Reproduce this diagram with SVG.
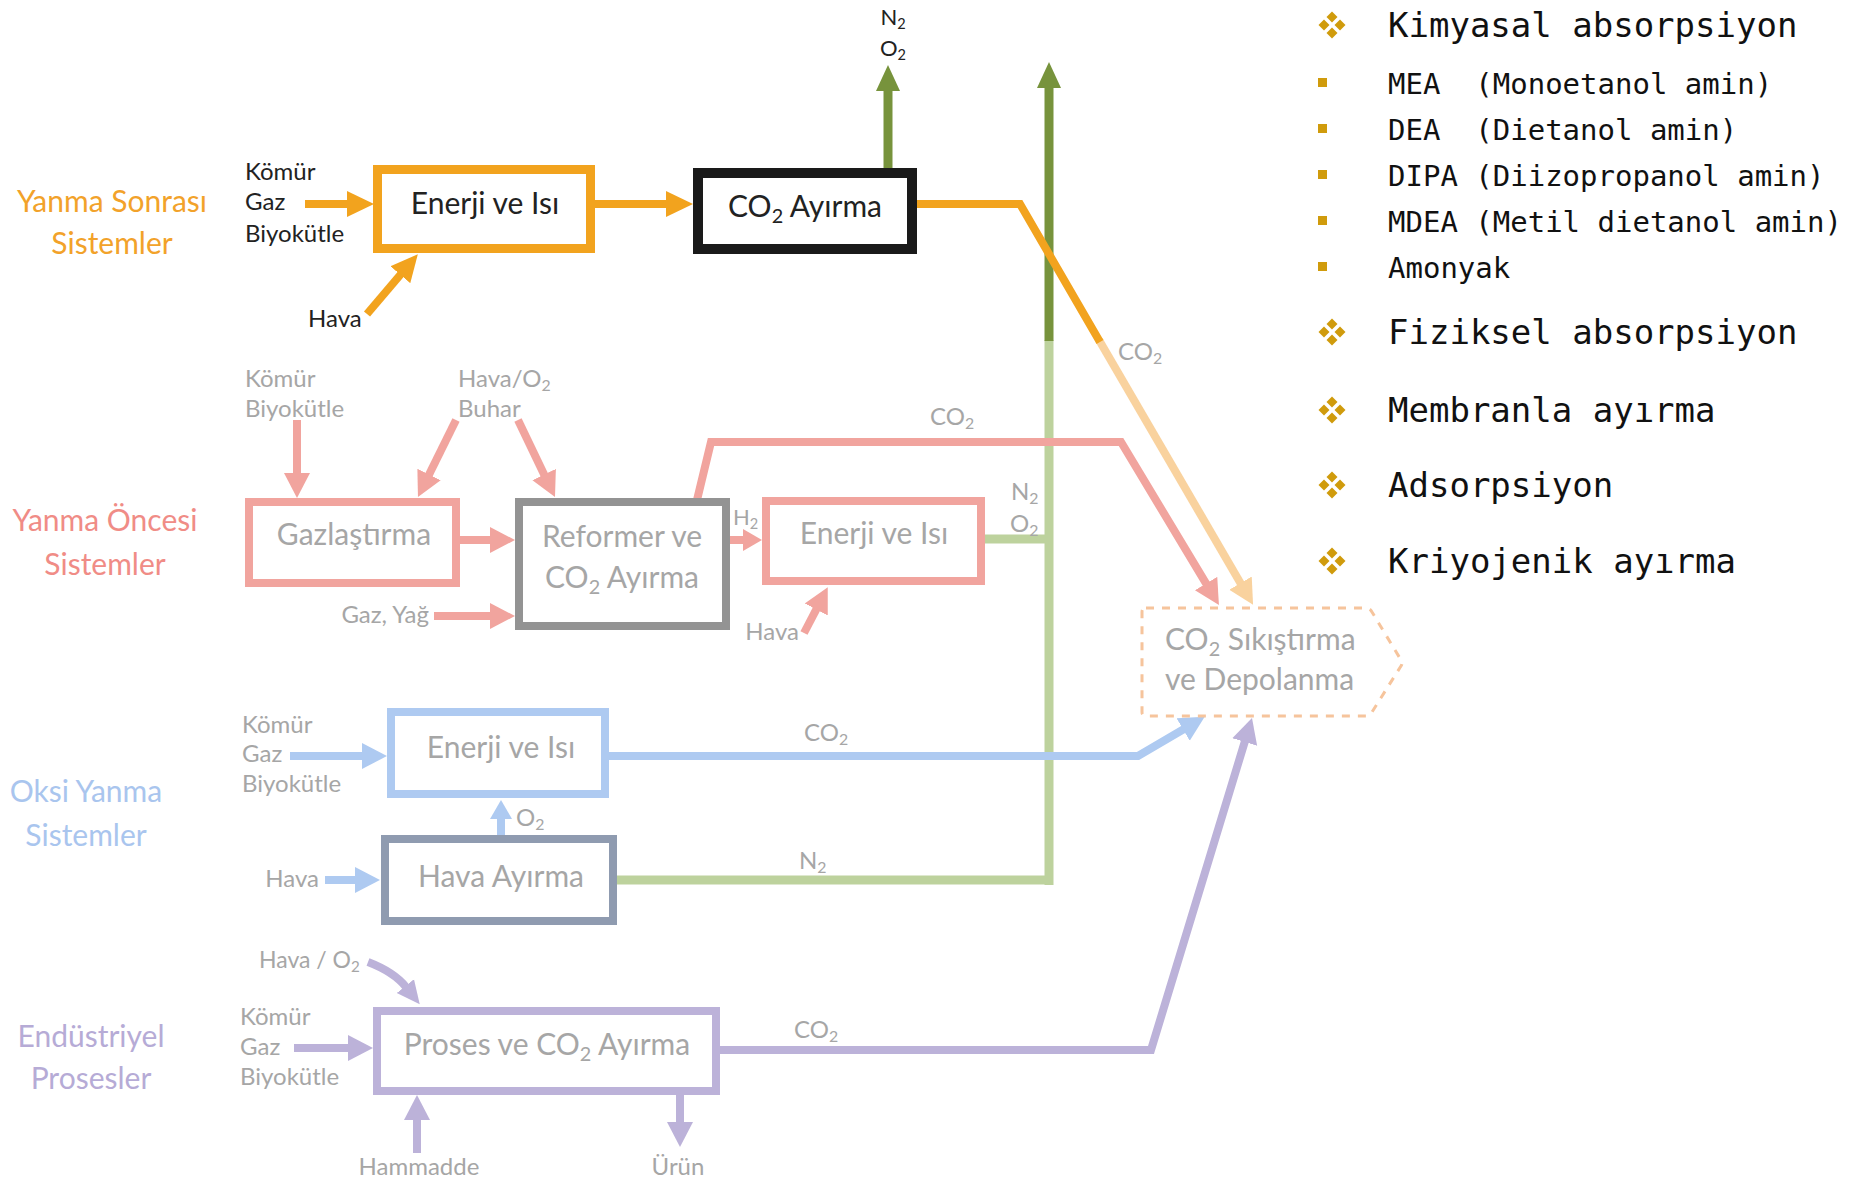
<svg xmlns="http://www.w3.org/2000/svg" width="1856" height="1181" viewBox="0 0 1856 1181">
<style>
text { font-family: Lato, "Liberation Sans", sans-serif; }
.t30 { font-size: 30px; }
.t24 { font-size: 24px; }
.t23 { font-size: 23px; }
.t22 { font-size: 22px; }
.mid { text-anchor: middle; }
.end { text-anchor: end; }
.dark { fill: #222222; }
.grey { fill: #A6A6A6; }
.sub { font-size: 0.66em; }
.mono { font-family: "DejaVu Sans Mono", "Liberation Mono", monospace; fill: #111111; }
.big { font-size: 34px; }
.small { font-size: 29px; }
.gold { fill: #D09B0C; }
.box { fill: #ffffff; }
.line { fill: none; stroke-linejoin: miter; stroke-linecap: butt; }
.or { stroke: #F2A31E; stroke-width: 8; }
.gr { stroke: #77933C; stroke-width: 9; }
.grL { stroke: #BDD29D; stroke-width: 9; }
.orL { stroke: #F9D29E; stroke-width: 8; }
.rd { stroke: #F1A49E; stroke-width: 8; }
.bl { stroke: #AECAF1; stroke-width: 8; }
.pu { stroke: #BCB2D9; stroke-width: 8; }
</style>
<defs>
  <marker id="hOr" markerUnits="userSpaceOnUse" viewBox="0 -14 28 28" markerWidth="28" markerHeight="28" refX="1" refY="0" orient="auto"><path d="M0,-13 L27,0 L0,13Z" fill="#F2A31E"/></marker>
  <marker id="hGr" markerUnits="userSpaceOnUse" viewBox="0 -14 28 28" markerWidth="28" markerHeight="28" refX="1" refY="0" orient="auto"><path d="M0,-12 L26,0 L0,12Z" fill="#77933C"/></marker>
  <marker id="hOrL" markerUnits="userSpaceOnUse" viewBox="0 -14 28 28" markerWidth="28" markerHeight="28" refX="1" refY="0" orient="auto"><path d="M0,-13 L25,0 L0,13Z" fill="#F9D29E"/></marker>
  <marker id="hRd" markerUnits="userSpaceOnUse" viewBox="0 -14 28 28" markerWidth="28" markerHeight="28" refX="1" refY="0" orient="auto"><path d="M0,-13 L25,0 L0,13Z" fill="#F1A49E"/></marker>
  <marker id="hRdS" markerUnits="userSpaceOnUse" viewBox="0 -14 28 28" markerWidth="28" markerHeight="28" refX="1" refY="0" orient="auto"><path d="M0,-11 L19,0 L0,11Z" fill="#F1A49E"/></marker>
  <marker id="hBl" markerUnits="userSpaceOnUse" viewBox="0 -14 28 28" markerWidth="28" markerHeight="28" refX="1" refY="0" orient="auto"><path d="M0,-13 L25,0 L0,13Z" fill="#AECAF1"/></marker>
  <marker id="hBlS" markerUnits="userSpaceOnUse" viewBox="0 -14 28 28" markerWidth="28" markerHeight="28" refX="1" refY="0" orient="auto"><path d="M0,-11 L19,0 L0,11Z" fill="#AECAF1"/></marker>
  <marker id="hPu" markerUnits="userSpaceOnUse" viewBox="0 -14 28 28" markerWidth="28" markerHeight="28" refX="1" refY="0" orient="auto"><path d="M0,-13 L25,0 L0,13Z" fill="#BCB2D9"/></marker>
  <marker id="hPuS" markerUnits="userSpaceOnUse" viewBox="0 -14 28 28" markerWidth="28" markerHeight="28" refX="1" refY="0" orient="auto"><path d="M0,-11 L23,0 L0,11Z" fill="#BCB2D9"/></marker>
  <g id="quad" class="gold">
    <path d="M0,-13.5 L5.5,-8 L0,-2.5 L-5.5,-8Z"/>
    <path d="M8,-5.5 L13.5,0 L8,5.5 L2.5,0Z"/>
    <path d="M0,2.5 L5.5,8 L0,13.5 L-5.5,8Z"/>
    <path d="M-8,-5.5 L-2.5,0 L-8,5.5 L-13.5,0Z"/>
  </g>
</defs>
<rect width="1856" height="1181" fill="#ffffff"/>

<!-- connectors -->
<g id="connectors">
  <path class="line grL" d="M1049,885 V340"/>
  <path class="line gr" d="M1049,341 V87" marker-end="url(#hGr)"/>
  <path class="line grL" d="M985,539 H1049"/>
  <path class="line grL" d="M617,880 H1053"/>
  <path class="line or" d="M305,204 H348" marker-end="url(#hOr)"/>
  <path class="line or" d="M367,314 L401,274" marker-end="url(#hOr)"/>
  <path class="line or" d="M595,204 H667" marker-end="url(#hOr)"/>
  <path class="line gr" d="M888,168 V90" marker-end="url(#hGr)"/>
  <path class="line orL" d="M1099,340 L1241,584" marker-end="url(#hOrL)"/>
  <path class="line or" d="M917,204 H1020 L1100,342"/>
  <path class="line rd" d="M297,420 V474" marker-end="url(#hRd)"/>
  <path class="line rd" d="M456,420 L428.6,475.5" marker-end="url(#hRd)"/>
  <path class="line rd" d="M518,420 L544.6,475.4" marker-end="url(#hRd)"/>
  <path class="line rd" d="M460,540 H491" marker-end="url(#hRd)"/>
  <path class="line rd" d="M434,616 H491" marker-end="url(#hRd)"/>
  <path class="line rd" d="M730,540 H744" marker-end="url(#hRdS)"/>
  <path class="line rd" d="M804,633 L816.7,608.6" marker-end="url(#hRd)"/>
  <path class="line rd" d="M697,500 L711,442 H1121 L1206.6,584.4" marker-end="url(#hRd)"/>
  <path class="line bl" d="M290,756 H363" marker-end="url(#hBl)"/>
  <path class="line bl" d="M609,756 H1138 L1184,729" marker-end="url(#hBl)"/>
  <path class="line bl" d="M501,837 V818" marker-end="url(#hBlS)"/>
  <path class="line bl" d="M325,880 H356" marker-end="url(#hBl)"/>
  <path class="line pu" d="M368,962 Q394,972 406,987" marker-end="url(#hPuS)"/>
  <path class="line pu" d="M294,1048 H349" marker-end="url(#hPu)"/>
  <path class="line pu" d="M720,1050 H1151 L1245,741" marker-end="url(#hPu)"/>
  <path class="line pu" d="M417,1153 V1119" marker-end="url(#hPu)"/>
  <path class="line pu" d="M680,1095 V1123" marker-end="url(#hPu)"/>
</g>

<g id="flow-labels">
  <text class="t22 dark mid" x="893" y="25">N<tspan class="sub" dy="4">2</tspan></text>
  <text class="t22 dark mid" x="893" y="56">O<tspan class="sub" dy="4">2</tspan></text>
  <text class="t24 dark" x="245" y="180">Kömür</text>
  <text class="t24 dark" x="245" y="210">Gaz</text>
  <text class="t24 dark" x="245" y="242">Biyokütle</text>
  <text class="t24 dark" x="308" y="327">Hava</text>
  <text class="t24 grey" x="1118" y="360">CO<tspan class="sub" dy="4">2</tspan></text>

  <text class="t24 grey" x="245" y="387">Kömür</text>
  <text class="t24 grey" x="245" y="417">Biyokütle</text>
  <text class="t24 grey" x="458" y="387">Hava/O<tspan class="sub" dy="4">2</tspan></text>
  <text class="t24 grey" x="458" y="417">Buhar</text>
  <text class="t24 grey end" x="429" y="623">Gaz, Yağ</text>
  <text class="t22 grey" x="733" y="525">H<tspan class="sub" dy="4">2</tspan></text>
  <text class="t24 grey end" x="799" y="640">Hava</text>
  <text class="t24 grey" x="930" y="425">CO<tspan class="sub" dy="4">2</tspan></text>
  <text class="t24 grey" x="1011" y="500">N<tspan class="sub" dy="4">2</tspan></text>
  <text class="t24 grey" x="1010" y="532">O<tspan class="sub" dy="4">2</tspan></text>

  <text class="t24 grey" x="242" y="733">Kömür</text>
  <text class="t24 grey" x="242" y="762">Gaz</text>
  <text class="t24 grey" x="242" y="792">Biyokütle</text>
  <text class="t24 grey" x="804" y="741">CO<tspan class="sub" dy="4">2</tspan></text>
  <text class="t24 grey" x="516" y="826">O<tspan class="sub" dy="4">2</tspan></text>
  <text class="t24 grey end" x="319" y="887">Hava</text>
  <text class="t24 grey" x="799" y="869">N<tspan class="sub" dy="4">2</tspan></text>

  <text class="t23 grey" x="259" y="968">Hava / O<tspan class="sub" dy="4">2</tspan></text>
  <text class="t24 grey" x="240" y="1025">Kömür</text>
  <text class="t24 grey" x="240" y="1055">Gaz</text>
  <text class="t24 grey" x="240" y="1085">Biyokütle</text>
  <text class="t24 grey" x="794" y="1038">CO<tspan class="sub" dy="4">2</tspan></text>
  <text class="t24 grey mid" x="419" y="1175">Hammadde</text>
  <text class="t24 grey mid" x="678" y="1175">Ürün</text>
</g>

<g id="titles">
  <text class="t30 mid" fill="#F2A22A" x="112" y="212">Yanma Sonrası</text>
  <text class="t30 mid" fill="#F2A22A" x="112" y="254">Sistemler</text>
  <text class="t30 mid" fill="#F08C86" x="105" y="531">Yanma Öncesi</text>
  <text class="t30 mid" fill="#F08C86" x="105" y="575">Sistemler</text>
  <text class="t30 mid" fill="#A9C5EE" x="86" y="802">Oksi Yanma</text>
  <text class="t30 mid" fill="#A9C5EE" x="86" y="846">Sistemler</text>
  <text class="t30 mid" fill="#B6ABD6" x="91" y="1047">Endüstriyel</text>
  <text class="t30 mid" fill="#B6ABD6" x="91" y="1089">Prosesler</text>
</g>

<g id="post-enerji">
  <rect class="box" x="377.5" y="169.5" width="213" height="79" stroke="#F2A31E" stroke-width="9"/>
  <text class="t30 dark mid" x="485" y="214">Enerji ve Isı</text>
</g>
<g id="post-co2-ayirma">
  <rect class="box" x="698" y="173" width="214" height="76" stroke="#1A1A1A" stroke-width="10"/>
  <text class="t30 dark mid" x="805" y="217">CO<tspan class="sub" dy="6">2</tspan><tspan dy="-6"> Ayırma</tspan></text>
</g>
<g id="pre-gazlastirma">
  <rect class="box" x="249" y="502" width="207" height="81" stroke="#F1A49E" stroke-width="8"/>
  <text class="t30 grey mid" x="354" y="545">Gazlaştırma</text>
</g>
<g id="pre-reformer">
  <rect class="box" x="519" y="502" width="207" height="124" stroke="#939393" stroke-width="8"/>
  <text class="t30 grey mid" x="622" y="547">Reformer ve</text>
  <text class="t30 grey mid" x="622" y="588">CO<tspan class="sub" dy="6">2</tspan><tspan dy="-6"> Ayırma</tspan></text>
</g>
<g id="pre-enerji">
  <rect class="box" x="766" y="501" width="215" height="80" stroke="#F1A49E" stroke-width="8"/>
  <text class="t30 grey mid" x="874" y="544">Enerji ve Isı</text>
</g>
<g id="oxy-enerji">
  <rect class="box" x="391" y="712" width="214" height="82" stroke="#AECAF1" stroke-width="8"/>
  <text class="t30 grey mid" x="501" y="758">Enerji ve Isı</text>
</g>
<g id="oxy-hava-ayirma">
  <rect class="box" x="385" y="839" width="228" height="82" stroke="#8F9BB0" stroke-width="8"/>
  <text class="t30 grey mid" x="501" y="887">Hava Ayırma</text>
</g>
<g id="ind-proses">
  <rect class="box" x="377" y="1011" width="339" height="80" stroke="#BCB2D9" stroke-width="8"/>
  <text class="t30 grey mid" x="547" y="1055">Proses ve CO<tspan class="sub" dy="6">2</tspan><tspan dy="-6"> Ayırma</tspan></text>
</g>
<g id="co2-depolama">
  <path d="M1146,608 H1366 Q1370,608 1372,612 L1401,660 Q1403,663 1401,666 L1372,712 Q1370,716 1366,716 H1146 Q1142,716 1142,712 V612 Q1142,608 1146,608Z" fill="none" stroke="#F6C49C" stroke-width="3" stroke-dasharray="8 8"/>
  <text class="t30 grey" x="1165" y="650">CO<tspan class="sub" dy="6">2</tspan><tspan dy="-6"> Sıkıştırma</tspan></text>
  <text class="t30 grey" x="1165" y="690">ve Depolanma</text>
</g>

<g id="legend">
  <use href="#quad" x="1332" y="25"/>
  <text class="mono big" x="1388" y="37">Kimyasal absorpsiyon</text>
  <rect class="gold" x="1318" y="78" width="9" height="9"/>
  <text class="mono small" x="1388" y="94" xml:space="preserve">MEA  (Monoetanol amin)</text>
  <rect class="gold" x="1318" y="124" width="9" height="9"/>
  <text class="mono small" x="1388" y="140" xml:space="preserve">DEA  (Dietanol amin)</text>
  <rect class="gold" x="1318" y="170" width="9" height="9"/>
  <text class="mono small" x="1388" y="186" xml:space="preserve">DIPA (Diizopropanol amin)</text>
  <rect class="gold" x="1318" y="216" width="9" height="9"/>
  <text class="mono small" x="1388" y="232" xml:space="preserve">MDEA (Metil dietanol amin)</text>
  <rect class="gold" x="1318" y="262" width="9" height="9"/>
  <text class="mono small" x="1388" y="278">Amonyak</text>
  <use href="#quad" x="1332" y="332"/>
  <text class="mono big" x="1388" y="344">Fiziksel absorpsiyon</text>
  <use href="#quad" x="1332" y="410"/>
  <text class="mono big" x="1388" y="422">Membranla ayırma</text>
  <use href="#quad" x="1332" y="485"/>
  <text class="mono big" x="1388" y="497">Adsorpsiyon</text>
  <use href="#quad" x="1332" y="561"/>
  <text class="mono big" x="1388" y="573">Kriyojenik ayırma</text>
</g>
</svg>
